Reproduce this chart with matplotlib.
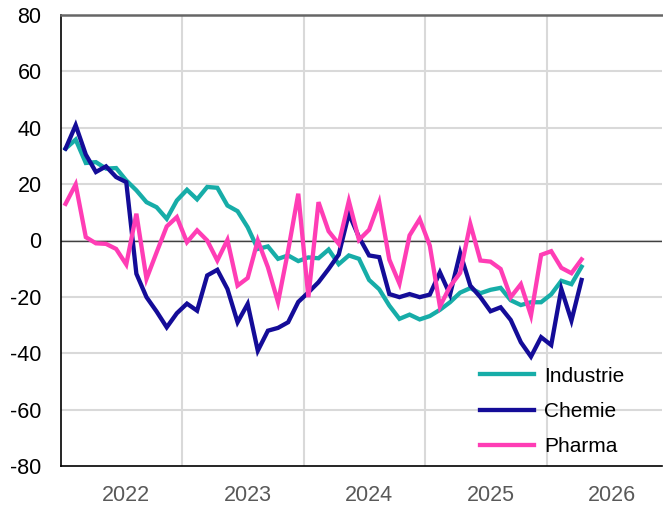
import matplotlib
matplotlib.use("Agg")
import matplotlib.pyplot as plt

plt.rcParams["font.family"] = ["Liberation Sans", "DejaVu Sans"]
plt.rcParams["axes.unicode_minus"] = False

# monatliche Werte, 52 Punkte
industrie = [32.6, 35.8, 27.5, 27.8, 25.5, 25.7, 21.3, 17.8, 13.6, 11.8, 7.7, 14.2,
             18.0, 14.6, 19.0, 18.7, 12.4, 10.4, 4.7, -3.0, -2.1, -6.5, -5.3, -7.3,
             -6.0, -6.3, -3.2, -8.4, -5.3, -6.5, -14.0, -17.3, -23.1, -27.8, -26.3, -28.0,
             -26.8, -24.6, -21.9, -18.5, -16.9, -18.7, -17.5, -16.8, -21.2, -22.9, -21.9, -21.9,
             -19.1, -14.3, -15.5, -9.3]
chemie = [32.6, 40.9, 30.5, 24.3, 26.3, 22.5, 20.7, -11.8, -20.1, -25.2, -30.8, -25.8,
          -22.4, -24.9, -12.4, -10.4, -17.2, -29.0, -22.5, -39.1, -32.0, -31.0, -29.0, -21.8,
          -18.4, -14.8, -10.1, -5.0, 9.5, 1.2, -5.3, -5.9, -19.0, -20.1, -19.0, -20.1,
          -19.2, -11.3, -19.2, -4.4, -16.0, -20.1, -25.1, -23.7, -28.2, -36.1, -41.2, -34.3,
          -37.1, -17.2, -28.4, -14.0]
pharma = [13.0, 19.9, 1.2, -1.0, -1.2, -3.0, -8.5, 9.5, -13.6, -4.2, 5.0, 8.3,
          -0.6, 3.6, 0.0, -7.1, 0.2, -16.0, -13.3, 0.0, -9.5, -21.9, -3.6, 16.6,
          -20.1, 13.6, 3.3, -1.2, 14.0, 0.2, 3.8, 13.6, -6.8, -15.3, 1.8, 7.6,
          -1.8, -23.4, -16.3, -11.5, 5.9, -7.1, -7.5, -10.1, -20.1, -15.5, -26.6, -5.1,
          -3.8, -9.7, -11.6, -6.7]

jahre = ["2022", "2023", "2024", "2025", "2026"]
jahr_pos = [6, 18, 30, 42, 54]
grenzen = [11.55, 23.55, 35.55, 47.55]

fig = plt.figure(figsize=(6.63, 5.09), dpi=100)
ax = fig.add_axes([61 / 663, 43 / 509, 601 / 663, 451 / 509])

x = list(range(len(industrie)))
ax.plot(x, industrie, color="#17ADA8", lw=3.1, label="Industrie", solid_joinstyle="miter")
ax.plot(x, chemie, color="#140C98", lw=3.1, label="Chemie", solid_joinstyle="miter")
ax.plot(x, pharma, color="#FF3DB5", lw=3.1, label="Pharma", solid_joinstyle="miter")

ax.set_xlim(-0.45, 58.95)
ax.set_ylim(-80, 80)

for g in grenzen:
    ax.axvline(g, color="#d9d9d9", lw=1.5, zorder=0)
for yv in range(-60, 80, 20):
    ax.axhline(yv, color="#d9d9d9", lw=1.5, zorder=0)
ax.axhline(0, color="#404040", lw=1, zorder=1)

ax.set_yticks(range(-80, 81, 20))
ax.set_xticks(jahr_pos)
ax.set_xticklabels(jahre)
ax.tick_params(axis="y", length=0, pad=14, labelsize=15.5, labelcolor="black")
ax.tick_params(axis="x", length=0, pad=14, labelsize=15.5, labelcolor="#595959")

ax.spines["right"].set_visible(False)
ax.spines["top"].set_color("#666666")
ax.spines["top"].set_linewidth(1.8)
ax.spines["left"].set_color("black")
ax.spines["bottom"].set_color("black")
ax.spines["left"].set_linewidth(1.2)
ax.spines["bottom"].set_linewidth(1.2)

ax.legend(loc="lower left", bbox_to_anchor=(0.697, 0.022), frameon=False,
          fontsize=15, handlelength=2.6, handletextpad=0.5, labelspacing=0.78,
          borderaxespad=0, borderpad=0)

fig.savefig("out.png", dpi=100)
